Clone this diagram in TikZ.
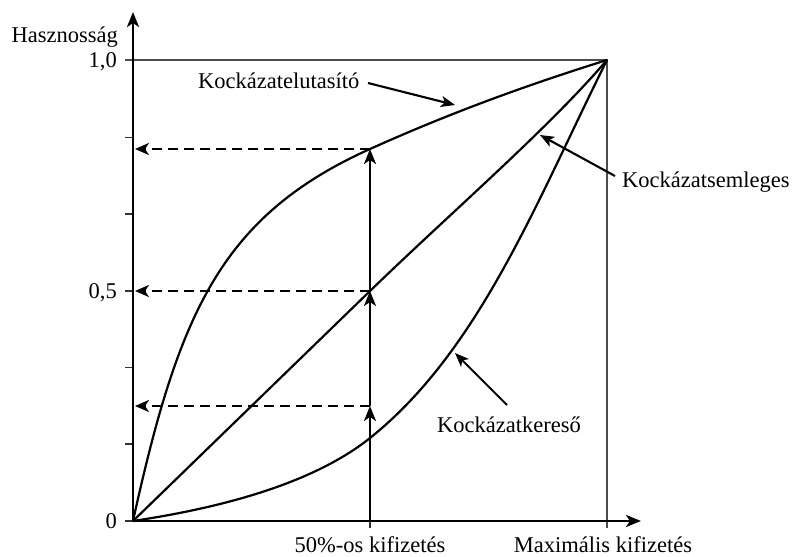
\documentclass[tikz,border=0pt]{standalone}
\usepackage{fontspec}
\setmainfont{Liberation Serif}
\usetikzlibrary{arrows.meta}
\begin{document}
\begin{tikzpicture}[x=1pt,y=-1pt,
  lbl/.style={inner sep=0pt, font=\fontsize{22.5}{27}\selectfont},
  axisline/.style={line width=2.6pt, -{Stealth[length=15pt,width=12pt,inset=4pt]}},
  curveline/.style={line width=2.2pt, line join=round},
  frameline/.style={line width=1.5pt, draw=black!70},
  tickline/.style={line width=1.3pt, draw=black!80},
  dasharrow/.style={line width=2.2pt, dash pattern=on 10pt off 6pt, -{Stealth[length=14pt,width=12pt,inset=4pt]}},
  uparrow/.style={line width=2.2pt, -{Stealth[length=15pt,width=12pt,inset=4pt]}},
  ptr/.style={line width=2.1pt, -{Stealth[length=14pt,width=11pt,inset=3.5pt]}}
]
\useasboundingbox (0,0) rectangle (793,557);

% key points
\coordinate (O) at (133,521);
\coordinate (Ytop) at (133,12);
\coordinate (Xend) at (641,521);
\coordinate (M) at (607,60);
\coordinate (Mb) at (607,528);
\coordinate (T1) at (125,60);
\coordinate (H) at (370,521);
\coordinate (Hb) at (370,528);
\coordinate (P1) at (370,406);
\coordinate (P2) at (370,291);
\coordinate (P3) at (370,149);
\coordinate (L1) at (370,438);
\coordinate (A1) at (135,406);
\coordinate (A2) at (135,291);
\coordinate (A3) at (135,149);

% frame
\draw[frameline] (T1) -- (M) -- (Mb);
% ticks
\foreach \yy in {137.7,214,291,367.5,444,521}
  \draw[tickline] (125,\yy) -- (133,\yy);
\draw[tickline] (H) -- (Hb);

% curves
\draw[curveline] (O) .. controls (178.5,314.5) and (220,216.5) .. (P3)
                 .. controls (450,113) and (527,85) .. (M);
\draw[curveline] (O) -- (P2) .. controls (450,213.4) and (547,130) .. (M);
\draw[curveline] (O) .. controls (213,509) and (310,486) .. (L1)
                 .. controls (480,350) and (537,200) .. (M);

% dashed arrows
\draw[dasharrow] (P3) -- (A3);
\draw[dasharrow] (P2) -- (A2);
\draw[dasharrow] (P1) -- (A1);
% vertical arrows
\draw[uparrow] (H) -- (P1);
\draw[uparrow] (P1) -- (P2);
\draw[uparrow] (P2) -- (P3);

% axes
\draw[axisline] (O) -- (Ytop);
\draw[axisline] (O) -- (Xend);

% labels
\node[lbl, anchor=base east] (hasz) at (118,42) {Hasznosság};
\node[lbl, anchor=base east] (one) at (117,67) {1,0};
\node[lbl, anchor=base east] (half) at (117,298) {0,5};
\node[lbl, anchor=base east] (zero) at (117,528) {0};
\node[lbl, anchor=base] (fifty) at (370,552) {50\%-os kifizetés};
\node[lbl, anchor=base] (maxk) at (603,552) {Maximális kifizetés};
\node[lbl, anchor=base west] (elut) at (198,88) {Kockázatelutasító};
\node[lbl, anchor=base west] (semle) at (622,187) {Kockázatsemleges};
\node[lbl, anchor=base west] (keres) at (437,432) {Kockázatkereső};

% pointers
\coordinate (e1) at (368,83);
\coordinate (e2) at (455,105);
\coordinate (s1) at (615,176);
\coordinate (s2) at (540,135);
\coordinate (k1) at (507,405);
\coordinate (k2) at (455,353);
\draw[ptr] (e1) -- (e2);
\draw[ptr] (s1) -- (s2);
\draw[ptr] (k1) -- (k2);
\end{tikzpicture}
\end{document}
